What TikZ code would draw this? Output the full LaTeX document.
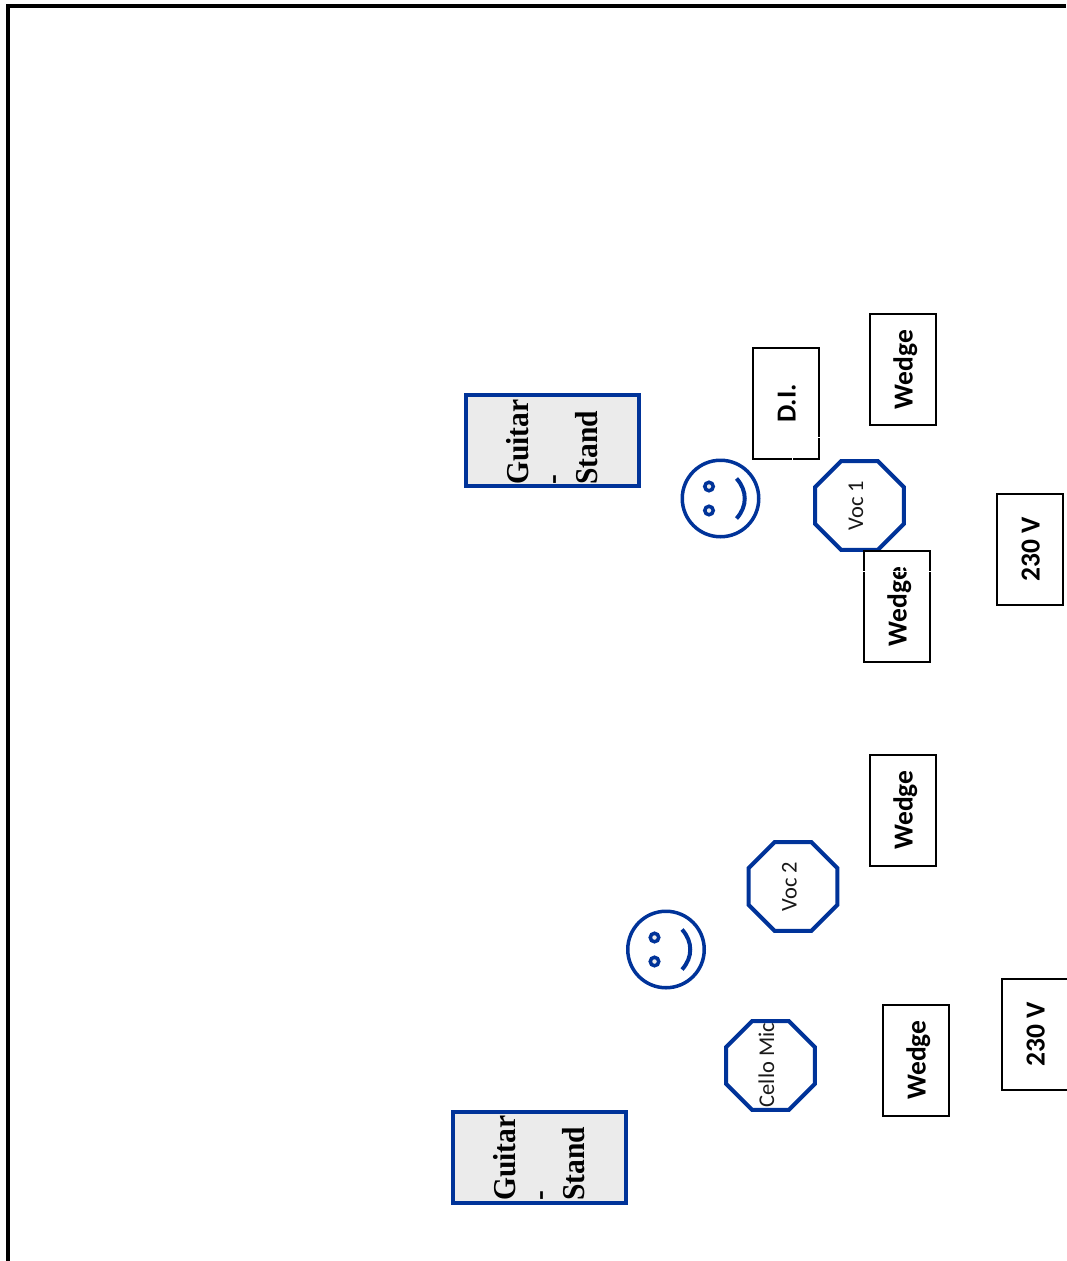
\documentclass[tikz,border=0pt]{standalone}
\usepackage{fontspec}
\setmainfont{Liberation Serif}
\newfontfamily\carlito{Carlito}
\usepackage{xcolor}
\usetikzlibrary{shapes.geometric}
\definecolor{stageblue}{HTML}{003399}
\definecolor{standgray}{HTML}{EBEBEB}
\tikzset{
  wedgebox/.style={draw=black,line width=2pt,fill=white,rotate=90,minimum width=111pt,minimum height=66pt,inner sep=0pt,outer sep=0pt,text height=24pt,text depth=5pt,font=\carlito\bfseries\fontsize{27.5}{30}\selectfont},
  standbox/.style={draw=stageblue,line width=4pt,fill=standgray,minimum width=173pt,minimum height=91pt,inner sep=0pt,outer sep=0pt},
  standtext/.style={rotate=90,yscale=1.08,anchor=base west,inner sep=0pt,font=\bfseries\fontsize{29.5}{34}\selectfont},
  micbox/.style={draw=stageblue,line width=4pt,fill=white,regular polygon,regular polygon sides=8,minimum size=96pt,inner sep=0pt,outer sep=0pt},
  mictext/.style={rotate=90,anchor=base,inner sep=0pt,text=black!90,font=\carlito\fontsize{22.5}{24}\selectfont},
  eyedot/.style={circle,draw=stageblue,line width=3.5pt,fill=standgray,minimum size=8.5pt,inner sep=0pt},
  smiley/.pic={
    \node[circle,draw=stageblue,line width=3.5pt,minimum size=76.5pt,inner sep=0pt] (-head) at (0,0) {};
    \node[eyedot] (-eyea) at (-11.5,-12) {};
    \node[eyedot] (-eyeb) at (-11.5,12) {};
    \draw[stageblue,line width=4pt] (16,-20) .. controls (27,-8) and (27,8) .. (16,20);
  }
}
\begin{document}
\begin{tikzpicture}[x=1pt,y=-1pt]
    \useasboundingbox (0,0) rectangle (1066,1261);
    \draw[line width=4pt] (8,1261)--(8,6)--(1066,6);
    % first group
    \node[standbox] (standa) at (552.5,440.5) {};
    \node[standtext] (standaone) at (528,485) {Guitar};
    \node[standtext] (standatwo) at (562,485) {-};
    \node[standtext] (standathree) at (597,485) {Stand};
    \pic (facea) at (720.5,498.5) {smiley};
    \node[wedgebox] (dibox) at (786,403.5) {D.I.};
    \node[wedgebox] (wedgea) at (903,369.5) {Wedge};
    \node[micbox] (voca) at (859.5,505.5) {};
    \node[mictext] (vocatext) at (863,505.5) {Voc 1};
    \node[wedgebox] (wedgeb) at (897,606.5) {Wedge};
    \node[wedgebox] (powera) at (1030,549.5) {230 V};
    \draw[white,line width=.8pt] (817.5,437)--(820.5,437) (792,457.5)--(792,460.5);
    \draw[white,line width=.8pt] (863,571.5)--(931,571.5);
    % second group
    \node[standbox] (standb) at (539.5,1157) {};
    \node[standtext] (standbone) at (515,1201) {Guitar};
    \node[standtext] (standbtwo) at (549,1201) {-};
    \node[standtext] (standbthree) at (584,1201) {Stand};
    \pic (faceb) at (666,949.5) {smiley};
    \node[wedgebox] (wedgec) at (903,810) {Wedge};
    \node[micbox] (vocb) at (793,886.5) {};
    \node[mictext] (vocbtext) at (796.5,886.5) {Voc 2};
    \node[micbox] (cello) at (770.5,1065.5) {};
    \node[mictext] (cellotext) at (774,1065) {Cello Mic};
    \node[wedgebox] (wedged) at (916,1060) {Wedge};
    \node[wedgebox] (powerb) at (1035,1034) {230 V};
\end{tikzpicture}
\end{document}
